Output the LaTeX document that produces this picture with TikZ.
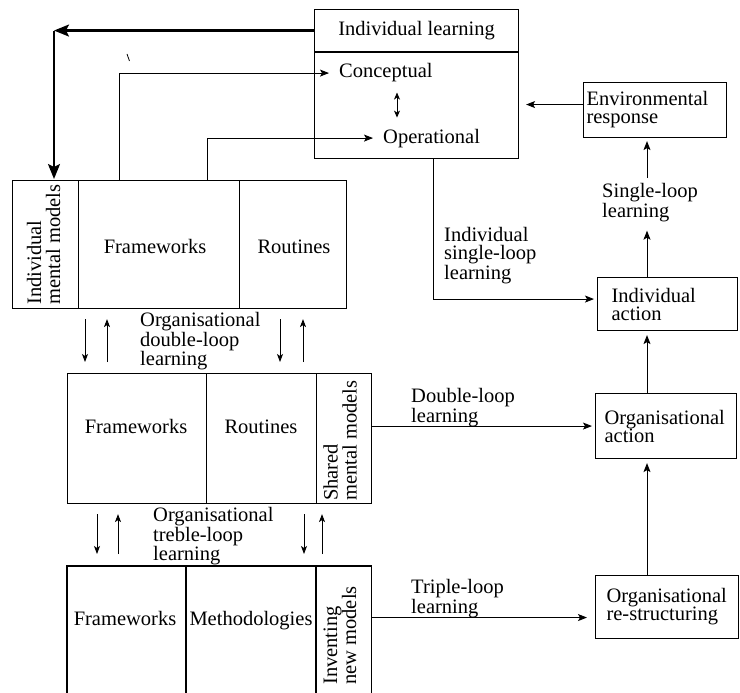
\documentclass[tikz,border=0pt]{standalone}
\usepackage{fontspec}
\setmainfont{Liberation Serif}
\newfontfamily\diagfont{Liberation Serif}
\usetikzlibrary{arrows.meta,calc}
\begin{document}
\begin{tikzpicture}[x=1pt,y=-1pt,
  every node/.style={font=\diagfont\fontsize{20.5}{18}\selectfont, inner sep=0pt},
  cellbox/.style={draw, line width=1.1pt, anchor=north west, inner sep=0pt},
  cell/.style={anchor=north west, inner sep=0pt},
  lbl/.style={anchor=north west, align=left},
  rot/.style={rotate=90, anchor=west, align=left, font=\diagfont\fontsize{20.5}{19}\selectfont},
  boxtxt/.style={align=left, font=\diagfont\fontsize{20.5}{18}\selectfont},
  arr/.style={line width=0.9pt, -{Stealth[length=9pt,width=7pt,inset=2pt]}},
  smallarr/.style={line width=0.9pt, -{Stealth[length=8pt,width=6pt,inset=2pt]}},
  dblarr/.style={line width=0.9pt, {Stealth[length=7pt,width=6pt,inset=2pt]}-{Stealth[length=7pt,width=6pt,inset=2pt]}},
  bigarr/.style={line width=2.2pt, -{Stealth[length=15pt,width=12pt,inset=3pt]}},
  openline/.style={line width=1.1pt},
]
\useasboundingbox (0,0) rectangle (740,693);

% Individual learning box
\node[cellbox, minimum width=204pt, minimum height=42pt] (ilt) at (314,9) {Individual learning};
\node[cellbox, minimum width=204pt, minimum height=107pt] (ilb) at (314,51) {};
\draw[line width=1.8pt] (ilt.south west) -- (ilt.south east);
\node[anchor=base west] (con) at (339,78) {Conceptual};
\node[anchor=base west] (ope) at (383,143) {Operational};
\draw[dblarr] ($(con.south west)+(58,10)$) -- ($(con.south west |- ope.north)+(58,-11)$);

% Right column boxes
\node[cellbox, boxtxt, minimum height=55pt, text width=137pt, inner xsep=3pt] (env) at (583,82) {Environmental\\response};
\node[cellbox, boxtxt, minimum height=53pt, text width=112pt, inner xsep=14pt] (ia) at (597,277) {Individual\\action};
\node[cellbox, boxtxt, minimum height=65pt, text width=123pt, inner xsep=9pt] (oa) at (595,393) {Organisational\\action};
\node[cellbox, boxtxt, minimum height=63pt, text width=121pt, inner xsep=11pt] (rs) at (595,575) {Organisational\\re-structuring};

% Top row of left boxes
\node[cellbox, minimum width=66pt, minimum height=128pt] (imm) at (12,180) {};
\node[cellbox, minimum width=161pt, minimum height=128pt] (tfw) at (78,180) {};
\node[cellbox, minimum width=107pt, minimum height=128pt] (trt) at (239,180) {};
\node[rot] (immt) at (43.5,305) {Individual\\mental models};
\node[anchor=base] (tfwt) at (155,253) {Frameworks};
\node[anchor=base] (trtt) at (294,253) {Routines};

% Middle row
\node[cellbox, minimum width=139pt, minimum height=130pt] (mfw) at (67,373) {};
\node[cellbox, minimum width=110pt, minimum height=130pt] (mrt) at (206,373) {};
\node[cellbox, minimum width=55pt, minimum height=130pt] (msh) at (316,373) {};
\node[anchor=base] (mfwt) at (136,433) {Frameworks};
\node[anchor=base] (mrtt) at (261,433) {Routines};
\node[rot] (msht) at (340,501) {Shared\\mental models};

% Bottom row (open at the bottom edge)
\node[cell, minimum width=119pt, minimum height=127pt] (bfw) at (67,566) {};
\node[cell, minimum width=130pt, minimum height=127pt] (bme) at (186,566) {};
\node[cell, minimum width=55pt, minimum height=127pt] (bin) at (316,566) {};
\foreach \c in {bfw,bme,bin}
  \draw[openline] (\c.south west) -- (\c.north west) -- (\c.north east) -- (\c.south east);
\node[anchor=base] (bfwt) at (125,625) {Frameworks};
\node[anchor=base] (bmet) at (251,625) {Methodologies};
\node[rot] (bint) at (340,685) {Inventing\\new models};

% Labels
\node[lbl] (isl) at (444,227) {Individual\\single-loop\\learning};
\node[lbl] (sl) at (602,183) {Single-loop\\learning};
\node[lbl, font=\diagfont\fontsize{20.5}{18.5}\selectfont] (odl) at (140,312) {Organisational\\double-loop\\learning};
\node[lbl] (otl) at (153,507) {Organisational\\treble-loop\\learning};
\node[lbl] (dll) at (411,388) {Double-loop\\learning};
\node[lbl] (tll) at (411,579) {Triple-loop\\learning};

% Thick arrow from Individual learning to Individual mental models
\coordinate (tc) at ($(imm.north west)+(42,0)$);
\draw[bigarr] (ilt.west) -- (tc |- ilt.west);
\draw[bigarr, shorten >=1pt] (tc |- ilt.west) -- (tc);
\draw[line width=0.8pt] (127,54) -- (129.5,61);

% Frameworks -> Conceptual, Frameworks -> Operational
\draw[arr, shorten >=10pt] ($(tfw.north west)+(41,0)$) |- (con.west);
\draw[arr, shorten >=10pt] ($(tfw.north west)+(129,0)$) |- (ope.west);

% Individual learning -> Individual action
\coordinate (iap) at ($(ia.west)+(0,-5)$);
\draw[arr, shorten >=3pt] ($(ilb.south west)+(119,0)$) |- (iap);

% Environmental response -> Individual learning
\coordinate (ea) at ($(env.west)+(0,-5.5)$);
\draw[arr, shorten >=7pt] (ea) -- (ea -| ilb.east);

% Right vertical arrows
\coordinate (rx) at (647,0);
\draw[arr] (ia.north -| rx) -- ($(sl.south -| rx)+(0,9)$);
\draw[arr, shorten >=3pt] ($(sl.north -| rx)+(0,-5)$) -- (env.south -| rx);
\draw[arr, shorten >=4pt] (oa.north -| rx) -- (ia.south -| rx);
\draw[arr, shorten >=4pt] (rs.north -| rx) -- (oa.south -| rx);

% Double-loop and triple-loop arrows
\draw[arr, shorten >=3pt] (msh.east |- oa.west) -- (oa.west);
\coordinate (tl) at ($(rs.west)+(0,10.5)$);
\draw[arr, shorten >=8pt] (tl -| bin.east) -- (tl);

% Arrows between top and middle rows
\draw[smallarr] ($(tfw.south west)+(7,10)$) -- ($(tfw.south west |- mfw.north)+(7,-11)$);
\draw[smallarr] ($(tfw.south west |- mfw.north)+(29,-11)$) -- ($(tfw.south west)+(29,10)$);
\draw[smallarr] ($(trt.south west)+(41,10)$) -- ($(trt.south west |- mfw.north)+(41,-11)$);
\draw[smallarr] ($(trt.south west |- mfw.north)+(64,-11)$) -- ($(trt.south west)+(64,10)$);

% Arrows between middle and bottom rows
\draw[smallarr] ($(mfw.south west)+(30,10)$) -- ($(mfw.south west |- bfw.north)+(30,-12)$);
\draw[smallarr] ($(mfw.south west |- bfw.north)+(51,-12)$) -- ($(mfw.south west)+(51,10)$);
\draw[smallarr] ($(msh.south west)+(-12,10)$) -- ($(msh.south west |- bfw.north)+(-12,-12)$);
\draw[smallarr] ($(msh.south west |- bfw.north)+(6,-12)$) -- ($(msh.south west)+(6,10)$);
\end{tikzpicture}
\end{document}
